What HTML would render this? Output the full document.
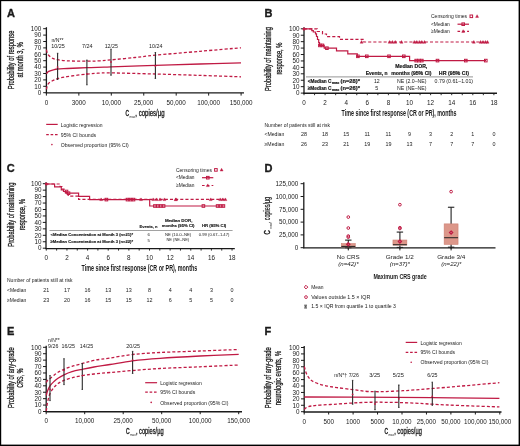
<!DOCTYPE html>
<html><head><meta charset="utf-8"><style>
html,body{margin:0;padding:0;background:#fff;}
svg{display:block;will-change:transform;}
text{font-family:"Liberation Sans", sans-serif;}
</style></head><body>
<svg width="520" height="446" viewBox="0 0 520 446" font-family='"Liberation Sans", sans-serif' fill="#1a1a1a">
<rect width="520" height="446" fill="#fff"/>
<text x="6.90" y="16.90" font-size="11" font-weight="bold" stroke="#1a1a1a" stroke-width="0.35">A</text>
<line x1="46.40" y1="27.20" x2="46.40" y2="93.30" stroke="#1a1a1a" stroke-width="1.3"/>
<line x1="43.20" y1="92.70" x2="46.40" y2="92.70" stroke="#1a1a1a" stroke-width="1"/>
<text x="41.20" y="94.97" font-size="6.3" text-anchor="end">0</text>
<line x1="43.20" y1="86.30" x2="46.40" y2="86.30" stroke="#1a1a1a" stroke-width="1"/>
<text x="41.20" y="88.57" font-size="6.3" text-anchor="end">10</text>
<line x1="43.20" y1="79.90" x2="46.40" y2="79.90" stroke="#1a1a1a" stroke-width="1"/>
<text x="41.20" y="82.17" font-size="6.3" text-anchor="end">20</text>
<line x1="43.20" y1="73.50" x2="46.40" y2="73.50" stroke="#1a1a1a" stroke-width="1"/>
<text x="41.20" y="75.77" font-size="6.3" text-anchor="end">30</text>
<line x1="43.20" y1="67.10" x2="46.40" y2="67.10" stroke="#1a1a1a" stroke-width="1"/>
<text x="41.20" y="69.37" font-size="6.3" text-anchor="end">40</text>
<line x1="43.20" y1="60.70" x2="46.40" y2="60.70" stroke="#1a1a1a" stroke-width="1"/>
<text x="41.20" y="62.97" font-size="6.3" text-anchor="end">50</text>
<line x1="43.20" y1="54.30" x2="46.40" y2="54.30" stroke="#1a1a1a" stroke-width="1"/>
<text x="41.20" y="56.57" font-size="6.3" text-anchor="end">60</text>
<line x1="43.20" y1="47.90" x2="46.40" y2="47.90" stroke="#1a1a1a" stroke-width="1"/>
<text x="41.20" y="50.17" font-size="6.3" text-anchor="end">70</text>
<line x1="43.20" y1="41.50" x2="46.40" y2="41.50" stroke="#1a1a1a" stroke-width="1"/>
<text x="41.20" y="43.77" font-size="6.3" text-anchor="end">80</text>
<line x1="43.20" y1="35.10" x2="46.40" y2="35.10" stroke="#1a1a1a" stroke-width="1"/>
<text x="41.20" y="37.37" font-size="6.3" text-anchor="end">90</text>
<line x1="43.20" y1="28.70" x2="46.40" y2="28.70" stroke="#1a1a1a" stroke-width="1"/>
<text x="41.20" y="30.97" font-size="6.3" text-anchor="end">100</text>
<line x1="45.80" y1="92.90" x2="244.00" y2="92.90" stroke="#1a1a1a" stroke-width="1.4"/>
<line x1="46.40" y1="92.90" x2="46.40" y2="95.60" stroke="#1a1a1a" stroke-width="1"/>
<text x="46.40" y="104.97" font-size="6.3" text-anchor="middle">0</text>
<line x1="78.85" y1="92.90" x2="78.85" y2="95.60" stroke="#1a1a1a" stroke-width="1"/>
<text x="78.85" y="104.97" font-size="6.3" text-anchor="middle">3000</text>
<line x1="111.30" y1="92.90" x2="111.30" y2="95.60" stroke="#1a1a1a" stroke-width="1"/>
<text x="111.30" y="104.97" font-size="6.3" text-anchor="middle">10,000</text>
<line x1="143.75" y1="92.90" x2="143.75" y2="95.60" stroke="#1a1a1a" stroke-width="1"/>
<text x="143.75" y="104.97" font-size="6.3" text-anchor="middle">25,000</text>
<line x1="176.20" y1="92.90" x2="176.20" y2="95.60" stroke="#1a1a1a" stroke-width="1"/>
<text x="176.20" y="104.97" font-size="6.3" text-anchor="middle">50,000</text>
<line x1="208.65" y1="92.90" x2="208.65" y2="95.60" stroke="#1a1a1a" stroke-width="1"/>
<text x="208.65" y="104.97" font-size="6.3" text-anchor="middle">100,000</text>
<line x1="241.10" y1="92.90" x2="241.10" y2="95.60" stroke="#1a1a1a" stroke-width="1"/>
<text x="241.10" y="104.97" font-size="6.3" text-anchor="middle">150,000</text>
<text transform="translate(13.90,59.90) rotate(-90)" x="-29.30" y="0" font-size="8.6" textLength="58.60" lengthAdjust="spacingAndGlyphs" stroke="#1a1a1a" stroke-width="0.3">Probability of response</text>
<text transform="translate(23.30,59.90) rotate(-90)" x="-17.60" y="0" font-size="8.6" textLength="35.20" lengthAdjust="spacingAndGlyphs" stroke="#1a1a1a" stroke-width="0.3">at month 3, %</text>
<text x="125.50" y="115.70" font-size="8.4" textLength="3.60" lengthAdjust="spacingAndGlyphs" stroke="#1a1a1a" stroke-width="0.45">C</text>
<text x="129.50" y="118.20" font-size="3.6" textLength="5.60" lengthAdjust="spacingAndGlyphs">max</text>
<text x="135.30" y="115.70" font-size="8.2" textLength="29.30" lengthAdjust="spacingAndGlyphs" stroke="#1a1a1a" stroke-width="0.3">, copies/µg</text>
<text x="51.50" y="41.51" font-size="5.3" textLength="12.00" lengthAdjust="spacingAndGlyphs">n/N**</text>
<text x="51.20" y="47.71" font-size="5.3" textLength="13.60" lengthAdjust="spacingAndGlyphs">10/25</text>
<text x="82.00" y="47.71" font-size="5.3" textLength="10.60" lengthAdjust="spacingAndGlyphs">7/24</text>
<text x="104.65" y="47.71" font-size="5.3" textLength="13.30" lengthAdjust="spacingAndGlyphs">12/25</text>
<text x="149.05" y="47.71" font-size="5.3" textLength="13.30" lengthAdjust="spacingAndGlyphs">10/24</text>
<path d="M46.40,73.70 C46.78,73.32 47.55,72.03 48.70,71.40 C49.85,70.77 51.83,70.30 53.30,69.90 C54.77,69.50 55.17,69.23 57.50,69.00 C59.83,68.77 62.38,68.72 67.30,68.50 C72.22,68.28 80.88,67.93 87.00,67.70 C93.12,67.47 100.00,67.25 104.00,67.10 C108.00,66.95 102.43,67.08 111.00,66.80 C119.57,66.52 140.57,65.87 155.40,65.40 C170.23,64.93 185.73,64.43 200.00,64.00 C214.27,63.57 234.17,63.00 241.00,62.80" stroke="#c01a44" stroke-width="1.3" fill="none"/>
<path d="M46.40,49.80 C46.67,50.55 47.07,52.93 48.00,54.30 C48.93,55.67 50.42,57.10 52.00,58.00 C53.58,58.90 55.00,59.23 57.50,59.70 C60.00,60.17 62.08,60.55 67.00,60.80 C71.92,61.05 81.50,61.20 87.00,61.20 C92.50,61.20 96.00,61.02 100.00,60.80 C104.00,60.58 105.17,60.45 111.00,59.90 C116.83,59.35 127.60,58.28 135.00,57.50 C142.40,56.72 144.57,56.23 155.40,55.20 C166.23,54.17 185.73,52.53 200.00,51.30 C214.27,50.07 234.17,48.38 241.00,47.80" stroke="#c01a44" stroke-width="1.3" fill="none" stroke-dasharray="3.05,2.05"/>
<path d="M46.40,89.40 C46.67,88.53 47.07,85.60 48.00,84.20 C48.93,82.80 50.42,81.92 52.00,81.00 C53.58,80.08 55.00,79.43 57.50,78.70 C60.00,77.97 62.08,77.37 67.00,76.60 C71.92,75.83 81.50,74.68 87.00,74.10 C92.50,73.52 96.00,73.30 100.00,73.10 C104.00,72.90 101.77,72.75 111.00,72.90 C120.23,73.05 140.57,73.58 155.40,74.00 C170.23,74.42 185.73,74.93 200.00,75.40 C214.27,75.87 234.17,76.57 241.00,76.80" stroke="#c01a44" stroke-width="1.3" fill="none" stroke-dasharray="3.05,2.05"/>
<line x1="57.60" y1="53.30" x2="57.60" y2="79.50" stroke="#2a2a2a" stroke-width="1.1"/>
<line x1="56.90" y1="53.30" x2="58.30" y2="53.30" stroke="#2a2a2a" stroke-width="0.9"/>
<line x1="56.90" y1="79.50" x2="58.30" y2="79.50" stroke="#2a2a2a" stroke-width="0.9"/>
<circle cx="57.60" cy="67.10" r="0.9" fill="#c01a44"/>
<line x1="86.90" y1="60.10" x2="86.90" y2="84.80" stroke="#2a2a2a" stroke-width="1.1"/>
<line x1="86.20" y1="60.10" x2="87.60" y2="60.10" stroke="#2a2a2a" stroke-width="0.9"/>
<line x1="86.20" y1="84.80" x2="87.60" y2="84.80" stroke="#2a2a2a" stroke-width="0.9"/>
<circle cx="86.90" cy="74.01" r="0.9" fill="#c01a44"/>
<line x1="111.00" y1="49.20" x2="111.00" y2="75.20" stroke="#2a2a2a" stroke-width="1.1"/>
<line x1="110.30" y1="49.20" x2="111.70" y2="49.20" stroke="#2a2a2a" stroke-width="0.9"/>
<line x1="110.30" y1="75.20" x2="111.70" y2="75.20" stroke="#2a2a2a" stroke-width="0.9"/>
<circle cx="111.00" cy="61.98" r="0.9" fill="#c01a44"/>
<line x1="155.40" y1="52.50" x2="155.40" y2="78.40" stroke="#2a2a2a" stroke-width="1.1"/>
<line x1="154.70" y1="52.50" x2="156.10" y2="52.50" stroke="#2a2a2a" stroke-width="0.9"/>
<line x1="154.70" y1="78.40" x2="156.10" y2="78.40" stroke="#2a2a2a" stroke-width="0.9"/>
<circle cx="155.40" cy="66.01" r="0.9" fill="#c01a44"/>
<line x1="46.20" y1="124.40" x2="57.70" y2="124.40" stroke="#c01a44" stroke-width="1.2"/>
<text x="60.80" y="126.54" font-size="5.8" textLength="41.70" lengthAdjust="spacingAndGlyphs">Logistic regression</text>
<line x1="46.20" y1="134.60" x2="57.70" y2="134.60" stroke="#c01a44" stroke-width="1.2" stroke-dasharray="2.6,1.8"/>
<text x="60.80" y="136.74" font-size="5.8" textLength="35.40" lengthAdjust="spacingAndGlyphs">95% CI bounds</text>
<circle cx="51.90" cy="144.60" r="0.8" fill="#c01a44"/>
<text x="60.80" y="146.74" font-size="5.8" textLength="68.00" lengthAdjust="spacingAndGlyphs">Observed proportion (95% CI)</text>
<text x="264.60" y="16.70" font-size="11" font-weight="bold" stroke="#1a1a1a" stroke-width="0.35">B</text>
<line x1="304.00" y1="27.30" x2="304.00" y2="93.70" stroke="#1a1a1a" stroke-width="1.3"/>
<line x1="300.80" y1="93.10" x2="304.00" y2="93.10" stroke="#1a1a1a" stroke-width="1"/>
<text x="299.60" y="95.37" font-size="6.3" text-anchor="end">0</text>
<line x1="300.80" y1="86.67" x2="304.00" y2="86.67" stroke="#1a1a1a" stroke-width="1"/>
<text x="299.60" y="88.94" font-size="6.3" text-anchor="end">10</text>
<line x1="300.80" y1="80.24" x2="304.00" y2="80.24" stroke="#1a1a1a" stroke-width="1"/>
<text x="299.60" y="82.51" font-size="6.3" text-anchor="end">20</text>
<line x1="300.80" y1="73.81" x2="304.00" y2="73.81" stroke="#1a1a1a" stroke-width="1"/>
<text x="299.60" y="76.08" font-size="6.3" text-anchor="end">30</text>
<line x1="300.80" y1="67.38" x2="304.00" y2="67.38" stroke="#1a1a1a" stroke-width="1"/>
<text x="299.60" y="69.65" font-size="6.3" text-anchor="end">40</text>
<line x1="300.80" y1="60.95" x2="304.00" y2="60.95" stroke="#1a1a1a" stroke-width="1"/>
<text x="299.60" y="63.22" font-size="6.3" text-anchor="end">50</text>
<line x1="300.80" y1="54.52" x2="304.00" y2="54.52" stroke="#1a1a1a" stroke-width="1"/>
<text x="299.60" y="56.79" font-size="6.3" text-anchor="end">60</text>
<line x1="300.80" y1="48.09" x2="304.00" y2="48.09" stroke="#1a1a1a" stroke-width="1"/>
<text x="299.60" y="50.36" font-size="6.3" text-anchor="end">70</text>
<line x1="300.80" y1="41.66" x2="304.00" y2="41.66" stroke="#1a1a1a" stroke-width="1"/>
<text x="299.60" y="43.93" font-size="6.3" text-anchor="end">80</text>
<line x1="300.80" y1="35.23" x2="304.00" y2="35.23" stroke="#1a1a1a" stroke-width="1"/>
<text x="299.60" y="37.50" font-size="6.3" text-anchor="end">90</text>
<line x1="300.80" y1="28.80" x2="304.00" y2="28.80" stroke="#1a1a1a" stroke-width="1"/>
<text x="299.60" y="31.07" font-size="6.3" text-anchor="end">100</text>
<line x1="303.40" y1="93.20" x2="497.00" y2="93.20" stroke="#1a1a1a" stroke-width="1.4"/>
<line x1="304.00" y1="93.20" x2="304.00" y2="95.20" stroke="#1a1a1a" stroke-width="0.9"/>
<line x1="314.55" y1="93.20" x2="314.55" y2="95.20" stroke="#1a1a1a" stroke-width="0.9"/>
<line x1="325.10" y1="93.20" x2="325.10" y2="95.20" stroke="#1a1a1a" stroke-width="0.9"/>
<line x1="335.65" y1="93.20" x2="335.65" y2="95.20" stroke="#1a1a1a" stroke-width="0.9"/>
<line x1="346.20" y1="93.20" x2="346.20" y2="95.20" stroke="#1a1a1a" stroke-width="0.9"/>
<line x1="356.75" y1="93.20" x2="356.75" y2="95.20" stroke="#1a1a1a" stroke-width="0.9"/>
<line x1="367.30" y1="93.20" x2="367.30" y2="95.20" stroke="#1a1a1a" stroke-width="0.9"/>
<line x1="377.85" y1="93.20" x2="377.85" y2="95.20" stroke="#1a1a1a" stroke-width="0.9"/>
<line x1="388.40" y1="93.20" x2="388.40" y2="95.20" stroke="#1a1a1a" stroke-width="0.9"/>
<line x1="398.95" y1="93.20" x2="398.95" y2="95.20" stroke="#1a1a1a" stroke-width="0.9"/>
<line x1="409.50" y1="93.20" x2="409.50" y2="95.20" stroke="#1a1a1a" stroke-width="0.9"/>
<line x1="420.05" y1="93.20" x2="420.05" y2="95.20" stroke="#1a1a1a" stroke-width="0.9"/>
<line x1="430.60" y1="93.20" x2="430.60" y2="95.20" stroke="#1a1a1a" stroke-width="0.9"/>
<line x1="441.15" y1="93.20" x2="441.15" y2="95.20" stroke="#1a1a1a" stroke-width="0.9"/>
<line x1="451.70" y1="93.20" x2="451.70" y2="95.20" stroke="#1a1a1a" stroke-width="0.9"/>
<line x1="462.25" y1="93.20" x2="462.25" y2="95.20" stroke="#1a1a1a" stroke-width="0.9"/>
<line x1="472.80" y1="93.20" x2="472.80" y2="95.20" stroke="#1a1a1a" stroke-width="0.9"/>
<line x1="483.35" y1="93.20" x2="483.35" y2="95.20" stroke="#1a1a1a" stroke-width="0.9"/>
<line x1="493.90" y1="93.20" x2="493.90" y2="95.20" stroke="#1a1a1a" stroke-width="0.9"/>
<text x="304.00" y="104.97" font-size="6.3" text-anchor="middle">0</text>
<text x="325.10" y="104.97" font-size="6.3" text-anchor="middle">2</text>
<text x="346.20" y="104.97" font-size="6.3" text-anchor="middle">4</text>
<text x="367.30" y="104.97" font-size="6.3" text-anchor="middle">6</text>
<text x="388.40" y="104.97" font-size="6.3" text-anchor="middle">8</text>
<text x="409.50" y="104.97" font-size="6.3" text-anchor="middle">10</text>
<text x="430.60" y="104.97" font-size="6.3" text-anchor="middle">12</text>
<text x="451.70" y="104.97" font-size="6.3" text-anchor="middle">14</text>
<text x="472.80" y="104.97" font-size="6.3" text-anchor="middle">16</text>
<text x="493.90" y="104.97" font-size="6.3" text-anchor="middle">18</text>
<text transform="translate(271.00,59.00) rotate(-90)" x="-31.95" y="0" font-size="8.6" textLength="63.90" lengthAdjust="spacingAndGlyphs" stroke="#1a1a1a" stroke-width="0.3">Probability of maintaining</text>
<text transform="translate(282.00,58.60) rotate(-90)" x="-16.00" y="0" font-size="8.6" textLength="32.00" lengthAdjust="spacingAndGlyphs" stroke="#1a1a1a" stroke-width="0.3">response, %</text>
<text x="341.60" y="115.80" font-size="8.4" font-weight="bold" textLength="115.00" lengthAdjust="spacingAndGlyphs">Time since first response (CR or PR), months</text>
<path d="M304.00,28.90 L311.80,28.90 L311.80,30.60 L313.30,30.60 L313.30,32.00 L315.50,32.00 L315.50,33.80 L316.50,33.80 L316.50,36.50 L317.50,36.50 L317.50,39.50 L318.70,39.50 L318.70,42.50 L319.50,42.50 L319.50,45.40 L324.20,45.40 L324.20,48.20 L336.50,48.20 L336.50,50.90 L347.80,50.90 L347.80,53.90 L357.30,53.90 L357.30,56.30 L409.60,56.30 L409.60,60.60 L486.00,60.60" stroke="#c01a44" stroke-width="1.2" fill="none"/>
<path d="M304.00,28.90 L317.20,28.90 L317.20,31.50 L322.50,31.50 L322.50,34.00 L326.50,34.00 L326.50,36.70 L339.50,36.70 L339.50,39.30 L363.80,39.30 L363.80,42.00 L488.00,42.00" stroke="#c01a44" stroke-width="1.2" fill="none" stroke-dasharray="3.1,2.05"/>
<rect x="318.60" y="44.10" width="2.60" height="2.60" fill="none" stroke="#c01a44" stroke-width="1.0"/>
<rect x="321.10" y="44.10" width="2.60" height="2.60" fill="none" stroke="#c01a44" stroke-width="1.0"/>
<rect x="325.60" y="46.90" width="2.60" height="2.60" fill="none" stroke="#c01a44" stroke-width="1.0"/>
<rect x="356.60" y="55.00" width="2.60" height="2.60" fill="none" stroke="#c01a44" stroke-width="1.0"/>
<rect x="365.50" y="55.00" width="2.60" height="2.60" fill="none" stroke="#c01a44" stroke-width="1.0"/>
<rect x="387.70" y="55.00" width="2.60" height="2.60" fill="none" stroke="#c01a44" stroke-width="1.0"/>
<rect x="402.50" y="55.00" width="2.60" height="2.60" fill="none" stroke="#c01a44" stroke-width="1.0"/>
<rect x="414.90" y="59.30" width="2.60" height="2.60" fill="none" stroke="#c01a44" stroke-width="1.0"/>
<rect x="417.70" y="59.30" width="2.60" height="2.60" fill="none" stroke="#c01a44" stroke-width="1.0"/>
<rect x="420.50" y="59.30" width="2.60" height="2.60" fill="none" stroke="#c01a44" stroke-width="1.0"/>
<rect x="436.20" y="59.30" width="2.60" height="2.60" fill="none" stroke="#c01a44" stroke-width="1.0"/>
<rect x="464.50" y="59.30" width="2.60" height="2.60" fill="none" stroke="#c01a44" stroke-width="1.0"/>
<rect x="484.50" y="59.30" width="2.60" height="2.60" fill="none" stroke="#c01a44" stroke-width="1.0"/>
<path d="M360.10,43.20 L361.60,40.50 L363.10,43.20 Z" fill="#c01a44" stroke="#c01a44" stroke-width="0.4"/>
<path d="M388.10,43.20 L389.60,40.50 L391.10,43.20 Z" fill="#c01a44" stroke="#c01a44" stroke-width="0.4"/>
<path d="M391.00,43.20 L392.50,40.50 L394.00,43.20 Z" fill="#c01a44" stroke="#c01a44" stroke-width="0.4"/>
<path d="M393.80,43.20 L395.30,40.50 L396.80,43.20 Z" fill="#c01a44" stroke="#c01a44" stroke-width="0.4"/>
<path d="M400.00,43.20 L401.50,40.50 L403.00,43.20 Z" fill="#c01a44" stroke="#c01a44" stroke-width="0.4"/>
<path d="M412.80,43.20 L414.30,40.50 L415.80,43.20 Z" fill="#c01a44" stroke="#c01a44" stroke-width="0.4"/>
<path d="M415.30,43.20 L416.80,40.50 L418.30,43.20 Z" fill="#c01a44" stroke="#c01a44" stroke-width="0.4"/>
<path d="M417.80,43.20 L419.30,40.50 L420.80,43.20 Z" fill="#c01a44" stroke="#c01a44" stroke-width="0.4"/>
<path d="M420.30,43.20 L421.80,40.50 L423.30,43.20 Z" fill="#c01a44" stroke="#c01a44" stroke-width="0.4"/>
<path d="M423.00,43.20 L424.50,40.50 L426.00,43.20 Z" fill="#c01a44" stroke="#c01a44" stroke-width="0.4"/>
<path d="M472.30,43.20 L473.80,40.50 L475.30,43.20 Z" fill="#c01a44" stroke="#c01a44" stroke-width="0.4"/>
<path d="M479.00,43.20 L480.50,40.50 L482.00,43.20 Z" fill="#c01a44" stroke="#c01a44" stroke-width="0.4"/>
<path d="M481.50,43.20 L483.00,40.50 L484.50,43.20 Z" fill="#c01a44" stroke="#c01a44" stroke-width="0.4"/>
<path d="M484.00,43.20 L485.50,40.50 L487.00,43.20 Z" fill="#c01a44" stroke="#c01a44" stroke-width="0.4"/>
<path d="M486.00,43.20 L487.50,40.50 L489.00,43.20 Z" fill="#c01a44" stroke="#c01a44" stroke-width="0.4"/>
<circle cx="304.00" cy="28.90" r="1.5" fill="#c01a44"/>
<text x="431.00" y="18.04" font-size="5.8" textLength="36.10" lengthAdjust="spacingAndGlyphs">Censoring times</text>
<rect x="470.00" y="15.00" width="2.60" height="2.60" fill="none" stroke="#c01a44" stroke-width="1.0"/>
<path d="M475.60,17.40 L477.10,14.70 L478.60,17.40 Z" fill="#c01a44" stroke="#c01a44" stroke-width="0.4"/>
<text x="431.00" y="25.94" font-size="5.8" textLength="18.80" lengthAdjust="spacingAndGlyphs">&lt;Median</text>
<line x1="457.50" y1="24.20" x2="469.00" y2="24.20" stroke="#c01a44" stroke-width="1.2"/>
<rect x="461.90" y="22.90" width="2.60" height="2.60" fill="none" stroke="#c01a44" stroke-width="1.0"/>
<text x="431.00" y="33.04" font-size="5.8" textLength="18.80" lengthAdjust="spacingAndGlyphs">≥Median</text>
<line x1="457.50" y1="31.30" x2="469.00" y2="31.30" stroke="#c01a44" stroke-width="1.2" stroke-dasharray="2.6,2.2"/>
<path d="M461.70,32.40 L463.20,29.70 L464.70,32.40 Z" fill="#c01a44" stroke="#c01a44" stroke-width="0.4"/>
<text x="395.30" y="68.15" font-size="5.6" font-weight="bold" textLength="32.00" lengthAdjust="spacingAndGlyphs" stroke="#1a1a1a" stroke-width="0.2">Median DOR,</text>
<text x="365.70" y="75.35" font-size="5.6" font-weight="bold" textLength="21.90" lengthAdjust="spacingAndGlyphs" stroke="#1a1a1a" stroke-width="0.2">Events, n</text>
<text x="391.20" y="75.35" font-size="5.6" font-weight="bold" textLength="40.30" lengthAdjust="spacingAndGlyphs" stroke="#1a1a1a" stroke-width="0.2">months (95% CI)</text>
<text x="438.80" y="75.35" font-size="5.6" font-weight="bold" textLength="30.10" lengthAdjust="spacingAndGlyphs" stroke="#1a1a1a" stroke-width="0.2">HR (95% CI)</text>
<line x1="306.00" y1="76.90" x2="473.00" y2="76.90" stroke="#8a8a8a" stroke-width="0.9"/>
<text x="307.70" y="83.35" font-size="5.6" font-weight="bold" textLength="23.80" lengthAdjust="spacingAndGlyphs" stroke="#1a1a1a" stroke-width="0.2">&lt;Median C</text>
<text x="332.00" y="84.06" font-size="3.2" font-weight="bold" textLength="7.20" lengthAdjust="spacingAndGlyphs" stroke="#1a1a1a" stroke-width="0.2">max</text>
<text x="340.50" y="83.35" font-size="5.6" font-weight="bold" textLength="19.50" lengthAdjust="spacingAndGlyphs" stroke="#1a1a1a" stroke-width="0.2">(n=28)*</text>
<text x="307.70" y="89.85" font-size="5.6" font-weight="bold" textLength="23.80" lengthAdjust="spacingAndGlyphs" stroke="#1a1a1a" stroke-width="0.2">≥Median C</text>
<text x="332.00" y="90.56" font-size="3.2" font-weight="bold" textLength="7.20" lengthAdjust="spacingAndGlyphs" stroke="#1a1a1a" stroke-width="0.2">max</text>
<text x="340.50" y="89.85" font-size="5.6" font-weight="bold" textLength="19.50" lengthAdjust="spacingAndGlyphs" stroke="#1a1a1a" stroke-width="0.2">(n=26)*</text>
<text x="373.90" y="83.42" font-size="5.6" textLength="5.80" lengthAdjust="spacingAndGlyphs">12</text>
<text x="375.30" y="89.72" font-size="5.6" textLength="3.00" lengthAdjust="spacingAndGlyphs">5</text>
<text x="397.00" y="83.25" font-size="5.6" textLength="29.50" lengthAdjust="spacingAndGlyphs">NE (2.0–NE)</text>
<text x="397.00" y="89.55" font-size="5.6" textLength="29.50" lengthAdjust="spacingAndGlyphs">NE (NE–NE)</text>
<text x="434.60" y="83.25" font-size="5.6" textLength="38.50" lengthAdjust="spacingAndGlyphs">0.79 (0.61–1.01)</text>
<text x="264.50" y="126.62" font-size="5.4" textLength="65.50" lengthAdjust="spacingAndGlyphs">Number of patients still at risk</text>
<text x="264.50" y="135.82" font-size="5.4" textLength="19.80" lengthAdjust="spacingAndGlyphs">&lt;Median</text>
<text x="264.50" y="145.92" font-size="5.4" textLength="19.80" lengthAdjust="spacingAndGlyphs">≥Median</text>
<text x="304.00" y="136.14" font-size="5.4" text-anchor="middle">28</text>
<text x="304.00" y="146.24" font-size="5.4" text-anchor="middle">26</text>
<text x="325.10" y="136.14" font-size="5.4" text-anchor="middle">18</text>
<text x="325.10" y="146.24" font-size="5.4" text-anchor="middle">23</text>
<text x="346.20" y="136.14" font-size="5.4" text-anchor="middle">15</text>
<text x="346.20" y="146.24" font-size="5.4" text-anchor="middle">21</text>
<text x="367.30" y="136.14" font-size="5.4" text-anchor="middle">11</text>
<text x="367.30" y="146.24" font-size="5.4" text-anchor="middle">19</text>
<text x="388.40" y="136.14" font-size="5.4" text-anchor="middle">11</text>
<text x="388.40" y="146.24" font-size="5.4" text-anchor="middle">19</text>
<text x="409.50" y="136.14" font-size="5.4" text-anchor="middle">9</text>
<text x="409.50" y="146.24" font-size="5.4" text-anchor="middle">13</text>
<text x="430.60" y="136.14" font-size="5.4" text-anchor="middle">3</text>
<text x="430.60" y="146.24" font-size="5.4" text-anchor="middle">7</text>
<text x="451.70" y="136.14" font-size="5.4" text-anchor="middle">2</text>
<text x="451.70" y="146.24" font-size="5.4" text-anchor="middle">7</text>
<text x="472.80" y="136.14" font-size="5.4" text-anchor="middle">1</text>
<text x="472.80" y="146.24" font-size="5.4" text-anchor="middle">7</text>
<text x="493.90" y="136.14" font-size="5.4" text-anchor="middle">0</text>
<text x="493.90" y="146.24" font-size="5.4" text-anchor="middle">0</text>
<text x="6.70" y="172.30" font-size="11" font-weight="bold" stroke="#1a1a1a" stroke-width="0.35">C</text>
<line x1="46.00" y1="182.20" x2="46.00" y2="248.80" stroke="#1a1a1a" stroke-width="1.3"/>
<line x1="42.80" y1="248.20" x2="46.00" y2="248.20" stroke="#1a1a1a" stroke-width="1"/>
<text x="41.60" y="250.47" font-size="6.3" text-anchor="end">0</text>
<line x1="42.80" y1="241.75" x2="46.00" y2="241.75" stroke="#1a1a1a" stroke-width="1"/>
<text x="41.60" y="244.02" font-size="6.3" text-anchor="end">10</text>
<line x1="42.80" y1="235.30" x2="46.00" y2="235.30" stroke="#1a1a1a" stroke-width="1"/>
<text x="41.60" y="237.57" font-size="6.3" text-anchor="end">20</text>
<line x1="42.80" y1="228.85" x2="46.00" y2="228.85" stroke="#1a1a1a" stroke-width="1"/>
<text x="41.60" y="231.12" font-size="6.3" text-anchor="end">30</text>
<line x1="42.80" y1="222.40" x2="46.00" y2="222.40" stroke="#1a1a1a" stroke-width="1"/>
<text x="41.60" y="224.67" font-size="6.3" text-anchor="end">40</text>
<line x1="42.80" y1="215.95" x2="46.00" y2="215.95" stroke="#1a1a1a" stroke-width="1"/>
<text x="41.60" y="218.22" font-size="6.3" text-anchor="end">50</text>
<line x1="42.80" y1="209.50" x2="46.00" y2="209.50" stroke="#1a1a1a" stroke-width="1"/>
<text x="41.60" y="211.77" font-size="6.3" text-anchor="end">60</text>
<line x1="42.80" y1="203.05" x2="46.00" y2="203.05" stroke="#1a1a1a" stroke-width="1"/>
<text x="41.60" y="205.32" font-size="6.3" text-anchor="end">70</text>
<line x1="42.80" y1="196.60" x2="46.00" y2="196.60" stroke="#1a1a1a" stroke-width="1"/>
<text x="41.60" y="198.87" font-size="6.3" text-anchor="end">80</text>
<line x1="42.80" y1="190.15" x2="46.00" y2="190.15" stroke="#1a1a1a" stroke-width="1"/>
<text x="41.60" y="192.42" font-size="6.3" text-anchor="end">90</text>
<line x1="42.80" y1="183.70" x2="46.00" y2="183.70" stroke="#1a1a1a" stroke-width="1"/>
<text x="41.60" y="185.97" font-size="6.3" text-anchor="end">100</text>
<line x1="45.40" y1="248.60" x2="234.80" y2="248.60" stroke="#1a1a1a" stroke-width="1.4"/>
<line x1="46.30" y1="248.60" x2="46.30" y2="250.60" stroke="#1a1a1a" stroke-width="0.9"/>
<line x1="56.62" y1="248.60" x2="56.62" y2="250.60" stroke="#1a1a1a" stroke-width="0.9"/>
<line x1="66.94" y1="248.60" x2="66.94" y2="250.60" stroke="#1a1a1a" stroke-width="0.9"/>
<line x1="77.26" y1="248.60" x2="77.26" y2="250.60" stroke="#1a1a1a" stroke-width="0.9"/>
<line x1="87.58" y1="248.60" x2="87.58" y2="250.60" stroke="#1a1a1a" stroke-width="0.9"/>
<line x1="97.90" y1="248.60" x2="97.90" y2="250.60" stroke="#1a1a1a" stroke-width="0.9"/>
<line x1="108.22" y1="248.60" x2="108.22" y2="250.60" stroke="#1a1a1a" stroke-width="0.9"/>
<line x1="118.54" y1="248.60" x2="118.54" y2="250.60" stroke="#1a1a1a" stroke-width="0.9"/>
<line x1="128.86" y1="248.60" x2="128.86" y2="250.60" stroke="#1a1a1a" stroke-width="0.9"/>
<line x1="139.18" y1="248.60" x2="139.18" y2="250.60" stroke="#1a1a1a" stroke-width="0.9"/>
<line x1="149.50" y1="248.60" x2="149.50" y2="250.60" stroke="#1a1a1a" stroke-width="0.9"/>
<line x1="159.82" y1="248.60" x2="159.82" y2="250.60" stroke="#1a1a1a" stroke-width="0.9"/>
<line x1="170.14" y1="248.60" x2="170.14" y2="250.60" stroke="#1a1a1a" stroke-width="0.9"/>
<line x1="180.46" y1="248.60" x2="180.46" y2="250.60" stroke="#1a1a1a" stroke-width="0.9"/>
<line x1="190.78" y1="248.60" x2="190.78" y2="250.60" stroke="#1a1a1a" stroke-width="0.9"/>
<line x1="201.10" y1="248.60" x2="201.10" y2="250.60" stroke="#1a1a1a" stroke-width="0.9"/>
<line x1="211.42" y1="248.60" x2="211.42" y2="250.60" stroke="#1a1a1a" stroke-width="0.9"/>
<line x1="221.74" y1="248.60" x2="221.74" y2="250.60" stroke="#1a1a1a" stroke-width="0.9"/>
<line x1="232.06" y1="248.60" x2="232.06" y2="250.60" stroke="#1a1a1a" stroke-width="0.9"/>
<text x="46.30" y="259.67" font-size="6.3" text-anchor="middle">0</text>
<text x="66.94" y="259.67" font-size="6.3" text-anchor="middle">2</text>
<text x="87.58" y="259.67" font-size="6.3" text-anchor="middle">4</text>
<text x="108.22" y="259.67" font-size="6.3" text-anchor="middle">6</text>
<text x="128.86" y="259.67" font-size="6.3" text-anchor="middle">8</text>
<text x="149.50" y="259.67" font-size="6.3" text-anchor="middle">10</text>
<text x="170.14" y="259.67" font-size="6.3" text-anchor="middle">12</text>
<text x="190.78" y="259.67" font-size="6.3" text-anchor="middle">14</text>
<text x="211.42" y="259.67" font-size="6.3" text-anchor="middle">16</text>
<text x="232.06" y="259.67" font-size="6.3" text-anchor="middle">18</text>
<text transform="translate(13.90,214.60) rotate(-90)" x="-32.10" y="0" font-size="8.6" textLength="64.20" lengthAdjust="spacingAndGlyphs" stroke="#1a1a1a" stroke-width="0.3">Probability of maintaining</text>
<text transform="translate(24.70,214.60) rotate(-90)" x="-15.75" y="0" font-size="8.6" textLength="31.50" lengthAdjust="spacingAndGlyphs" stroke="#1a1a1a" stroke-width="0.3">response, %</text>
<text x="81.50" y="271.00" font-size="8.4" font-weight="bold" textLength="115.70" lengthAdjust="spacingAndGlyphs">Time since first response (CR or PR), months</text>
<path d="M46.30,184.00 L54.60,184.00 L54.60,186.90 L61.30,186.90 L61.30,189.80 L63.50,189.80 L63.50,191.50 L66.00,191.50 L66.00,193.20 L78.60,193.20 L78.60,196.30 L89.60,196.30 L89.60,199.60 L149.70,199.60 L149.70,206.00 L224.50,206.00" stroke="#c01a44" stroke-width="1.2" fill="none"/>
<path d="M46.30,184.00 L60.00,184.00 L60.00,186.50 L62.00,186.50 L62.00,189.00 L64.00,189.00 L64.00,191.50 L66.00,191.50 L66.00,194.00 L68.20,194.00 L68.20,196.10 L78.60,196.10 L78.60,199.40 L225.40,199.40" stroke="#c01a44" stroke-width="1.2" fill="none" stroke-dasharray="3.1,2.05"/>
<rect x="65.20" y="190.20" width="2.60" height="2.60" fill="none" stroke="#c01a44" stroke-width="1.0"/>
<rect x="67.20" y="191.90" width="2.60" height="2.60" fill="none" stroke="#c01a44" stroke-width="1.0"/>
<rect x="105.10" y="198.30" width="2.60" height="2.60" fill="none" stroke="#c01a44" stroke-width="1.0"/>
<rect x="126.20" y="198.30" width="2.60" height="2.60" fill="none" stroke="#c01a44" stroke-width="1.0"/>
<rect x="129.20" y="198.30" width="2.60" height="2.60" fill="none" stroke="#c01a44" stroke-width="1.0"/>
<rect x="132.20" y="198.30" width="2.60" height="2.60" fill="none" stroke="#c01a44" stroke-width="1.0"/>
<rect x="153.60" y="204.70" width="2.60" height="2.60" fill="none" stroke="#c01a44" stroke-width="1.0"/>
<rect x="156.50" y="204.70" width="2.60" height="2.60" fill="none" stroke="#c01a44" stroke-width="1.0"/>
<rect x="159.40" y="204.70" width="2.60" height="2.60" fill="none" stroke="#c01a44" stroke-width="1.0"/>
<rect x="162.30" y="204.70" width="2.60" height="2.60" fill="none" stroke="#c01a44" stroke-width="1.0"/>
<rect x="202.10" y="204.70" width="2.60" height="2.60" fill="none" stroke="#c01a44" stroke-width="1.0"/>
<rect x="216.30" y="204.70" width="2.60" height="2.60" fill="none" stroke="#c01a44" stroke-width="1.0"/>
<rect x="219.20" y="204.70" width="2.60" height="2.60" fill="none" stroke="#c01a44" stroke-width="1.0"/>
<rect x="222.10" y="204.70" width="2.60" height="2.60" fill="none" stroke="#c01a44" stroke-width="1.0"/>
<path d="M99.70,200.60 L101.20,197.90 L102.70,200.60 Z" fill="#c01a44" stroke="#c01a44" stroke-width="0.4"/>
<path d="M139.50,200.60 L141.00,197.90 L142.50,200.60 Z" fill="#c01a44" stroke="#c01a44" stroke-width="0.4"/>
<path d="M151.70,200.60 L153.20,197.90 L154.70,200.60 Z" fill="#c01a44" stroke="#c01a44" stroke-width="0.4"/>
<path d="M155.10,200.60 L156.60,197.90 L158.10,200.60 Z" fill="#c01a44" stroke="#c01a44" stroke-width="0.4"/>
<path d="M158.50,200.60 L160.00,197.90 L161.50,200.60 Z" fill="#c01a44" stroke="#c01a44" stroke-width="0.4"/>
<path d="M162.90,200.60 L164.40,197.90 L165.90,200.60 Z" fill="#c01a44" stroke="#c01a44" stroke-width="0.4"/>
<path d="M174.20,200.60 L175.70,197.90 L177.20,200.60 Z" fill="#c01a44" stroke="#c01a44" stroke-width="0.4"/>
<path d="M174.50,200.60 L176.00,197.90 L177.50,200.60 Z" fill="#c01a44" stroke="#c01a44" stroke-width="0.4"/>
<path d="M209.20,200.60 L210.70,197.90 L212.20,200.60 Z" fill="#c01a44" stroke="#c01a44" stroke-width="0.4"/>
<path d="M218.70,200.60 L220.20,197.90 L221.70,200.60 Z" fill="#c01a44" stroke="#c01a44" stroke-width="0.4"/>
<path d="M221.30,200.60 L222.80,197.90 L224.30,200.60 Z" fill="#c01a44" stroke="#c01a44" stroke-width="0.4"/>
<path d="M223.90,200.60 L225.40,197.90 L226.90,200.60 Z" fill="#c01a44" stroke="#c01a44" stroke-width="0.4"/>
<circle cx="46.30" cy="184.00" r="1.5" fill="#c01a44"/>
<text x="176.00" y="171.64" font-size="5.8" textLength="36.00" lengthAdjust="spacingAndGlyphs">Censoring times</text>
<rect x="214.60" y="168.60" width="2.60" height="2.60" fill="none" stroke="#c01a44" stroke-width="1.0"/>
<path d="M220.10,171.00 L221.60,168.30 L223.10,171.00 Z" fill="#c01a44" stroke="#c01a44" stroke-width="0.4"/>
<text x="176.00" y="179.44" font-size="5.8" textLength="18.50" lengthAdjust="spacingAndGlyphs">&lt;Median</text>
<line x1="202.00" y1="177.70" x2="213.30" y2="177.70" stroke="#c01a44" stroke-width="1.2"/>
<rect x="206.50" y="176.40" width="2.60" height="2.60" fill="none" stroke="#c01a44" stroke-width="1.0"/>
<text x="176.00" y="187.24" font-size="5.8" textLength="18.50" lengthAdjust="spacingAndGlyphs">≥Median</text>
<line x1="202.00" y1="185.50" x2="213.30" y2="185.50" stroke="#c01a44" stroke-width="1.2" stroke-dasharray="2.6,2.2"/>
<path d="M206.30,186.60 L207.80,183.90 L209.30,186.60 Z" fill="#c01a44" stroke="#c01a44" stroke-width="0.4"/>
<text x="164.90" y="222.05" font-size="4.4" font-weight="bold" textLength="27.50" lengthAdjust="spacingAndGlyphs" stroke="#1a1a1a" stroke-width="0.15">Median DOR,</text>
<text x="161.70" y="227.35" font-size="4.4" font-weight="bold" textLength="32.80" lengthAdjust="spacingAndGlyphs" stroke="#1a1a1a" stroke-width="0.15">months (95% CI)</text>
<text x="139.50" y="228.05" font-size="4.4" font-weight="bold" textLength="18.00" lengthAdjust="spacingAndGlyphs" stroke="#1a1a1a" stroke-width="0.15">Events, n</text>
<text x="201.90" y="227.35" font-size="4.4" font-weight="bold" textLength="24.40" lengthAdjust="spacingAndGlyphs" stroke="#1a1a1a" stroke-width="0.15">HR (95% CI)</text>
<line x1="49.50" y1="230.50" x2="232.60" y2="230.50" stroke="#8a8a8a" stroke-width="0.8"/>
<text x="50.60" y="236.25" font-size="4.4" font-weight="bold" textLength="82.40" lengthAdjust="spacingAndGlyphs" stroke="#1a1a1a" stroke-width="0.15">&lt;Median Concentration at Month 3 (n=21)*</text>
<text x="50.60" y="243.05" font-size="4.4" font-weight="bold" textLength="82.40" lengthAdjust="spacingAndGlyphs" stroke="#1a1a1a" stroke-width="0.15">≥Median Concentration at Month 3 (n=22)*</text>
<text x="147.40" y="236.38" font-size="4.4" textLength="2.40" lengthAdjust="spacingAndGlyphs">6</text>
<text x="147.40" y="241.88" font-size="4.4" textLength="2.40" lengthAdjust="spacingAndGlyphs">5</text>
<text x="164.90" y="235.65" font-size="4.4" textLength="26.40" lengthAdjust="spacingAndGlyphs">NE (10.0–NE)</text>
<text x="166.40" y="240.65" font-size="4.4" textLength="22.80" lengthAdjust="spacingAndGlyphs">NE (NE–NE)</text>
<text x="198.80" y="235.65" font-size="4.4" textLength="30.60" lengthAdjust="spacingAndGlyphs">0.99 (0.67–1.47)</text>
<text x="7.00" y="282.12" font-size="5.4" textLength="65.50" lengthAdjust="spacingAndGlyphs">Number of patients still at risk</text>
<text x="7.00" y="291.62" font-size="5.4" textLength="19.30" lengthAdjust="spacingAndGlyphs">&lt;Median</text>
<text x="7.00" y="302.02" font-size="5.4" textLength="19.30" lengthAdjust="spacingAndGlyphs">≥Median</text>
<text x="46.30" y="291.94" font-size="5.4" text-anchor="middle">21</text>
<text x="46.30" y="302.14" font-size="5.4" text-anchor="middle">23</text>
<text x="66.94" y="291.94" font-size="5.4" text-anchor="middle">17</text>
<text x="66.94" y="302.14" font-size="5.4" text-anchor="middle">20</text>
<text x="87.58" y="291.94" font-size="5.4" text-anchor="middle">16</text>
<text x="87.58" y="302.14" font-size="5.4" text-anchor="middle">16</text>
<text x="108.22" y="291.94" font-size="5.4" text-anchor="middle">13</text>
<text x="108.22" y="302.14" font-size="5.4" text-anchor="middle">15</text>
<text x="128.86" y="291.94" font-size="5.4" text-anchor="middle">13</text>
<text x="128.86" y="302.14" font-size="5.4" text-anchor="middle">15</text>
<text x="149.50" y="291.94" font-size="5.4" text-anchor="middle">8</text>
<text x="149.50" y="302.14" font-size="5.4" text-anchor="middle">12</text>
<text x="170.14" y="291.94" font-size="5.4" text-anchor="middle">4</text>
<text x="170.14" y="302.14" font-size="5.4" text-anchor="middle">6</text>
<text x="190.78" y="291.94" font-size="5.4" text-anchor="middle">4</text>
<text x="190.78" y="302.14" font-size="5.4" text-anchor="middle">5</text>
<text x="211.42" y="291.94" font-size="5.4" text-anchor="middle">3</text>
<text x="211.42" y="302.14" font-size="5.4" text-anchor="middle">5</text>
<text x="232.06" y="291.94" font-size="5.4" text-anchor="middle">0</text>
<text x="232.06" y="302.14" font-size="5.4" text-anchor="middle">0</text>
<text x="264.60" y="172.20" font-size="11" font-weight="bold" stroke="#1a1a1a" stroke-width="0.35">D</text>
<line x1="303.80" y1="182.20" x2="303.80" y2="248.30" stroke="#1a1a1a" stroke-width="1.3"/>
<line x1="300.60" y1="247.70" x2="303.80" y2="247.70" stroke="#1a1a1a" stroke-width="1"/>
<text x="298.30" y="249.97" font-size="6.3" text-anchor="end">0</text>
<line x1="300.60" y1="234.90" x2="303.80" y2="234.90" stroke="#1a1a1a" stroke-width="1"/>
<text x="298.30" y="237.17" font-size="6.3" text-anchor="end">25,000</text>
<line x1="300.60" y1="222.10" x2="303.80" y2="222.10" stroke="#1a1a1a" stroke-width="1"/>
<text x="298.30" y="224.37" font-size="6.3" text-anchor="end">50,000</text>
<line x1="300.60" y1="209.30" x2="303.80" y2="209.30" stroke="#1a1a1a" stroke-width="1"/>
<text x="298.30" y="211.57" font-size="6.3" text-anchor="end">75,000</text>
<line x1="300.60" y1="196.50" x2="303.80" y2="196.50" stroke="#1a1a1a" stroke-width="1"/>
<text x="298.30" y="198.77" font-size="6.3" text-anchor="end">100,000</text>
<line x1="300.60" y1="183.70" x2="303.80" y2="183.70" stroke="#1a1a1a" stroke-width="1"/>
<text x="298.30" y="185.97" font-size="6.3" text-anchor="end">125,000</text>
<line x1="303.20" y1="247.90" x2="495.50" y2="247.90" stroke="#1a1a1a" stroke-width="1.4"/>
<text transform="translate(270.2,234.5) rotate(-90)" x="0" y="0" font-size="8.4" stroke="#1a1a1a" stroke-width="0.45" textLength="4.3" lengthAdjust="spacingAndGlyphs">C</text>
<text transform="translate(272.0,229.0) rotate(-90)" x="0" y="0" font-size="3.6" textLength="6.2" lengthAdjust="spacingAndGlyphs">max</text>
<text transform="translate(270.2,223.2) rotate(-90)" x="0" y="0" font-size="8.2" stroke="#1a1a1a" stroke-width="0.2" textLength="26.2" lengthAdjust="spacingAndGlyphs">, copies/µg</text>
<line x1="348.30" y1="247.90" x2="348.30" y2="250.40" stroke="#1a1a1a" stroke-width="1"/>
<line x1="399.90" y1="247.90" x2="399.90" y2="250.40" stroke="#1a1a1a" stroke-width="1"/>
<line x1="451.10" y1="247.90" x2="451.10" y2="250.40" stroke="#1a1a1a" stroke-width="1"/>
<line x1="348.30" y1="240.12" x2="348.30" y2="243.60" stroke="#222" stroke-width="1.1"/>
<line x1="345.10" y1="240.12" x2="351.50" y2="240.12" stroke="#222" stroke-width="1.1"/>
<line x1="348.30" y1="246.93" x2="348.30" y2="249.20" stroke="#222" stroke-width="1.1"/>
<line x1="345.10" y1="247.70" x2="351.50" y2="247.70" stroke="#222" stroke-width="1.1"/>
<rect x="341.35" y="243.60" width="13.90" height="3.33" fill="#dc978a" stroke="#cd7f72" stroke-width="0.6"/>
<line x1="341.35" y1="246.42" x2="355.25" y2="246.42" stroke="#222" stroke-width="1.0"/>
<path d="M348.30,242.67 L349.85,244.22 L348.30,245.77 L346.75,244.22 Z" fill="none" stroke="#c01a44" stroke-width="1.3"/>
<circle cx="348.30" cy="217.08" r="1.35" fill="none" stroke="#c01a44" stroke-width="1.0"/>
<circle cx="348.30" cy="228.04" r="1.35" fill="none" stroke="#c01a44" stroke-width="1.0"/>
<circle cx="348.30" cy="236.03" r="1.35" fill="none" stroke="#c01a44" stroke-width="1.0"/>
<circle cx="348.30" cy="237.20" r="1.35" fill="none" stroke="#c01a44" stroke-width="1.0"/>
<line x1="399.90" y1="232.08" x2="399.90" y2="240.02" stroke="#222" stroke-width="1.1"/>
<line x1="396.70" y1="232.08" x2="403.10" y2="232.08" stroke="#222" stroke-width="1.1"/>
<line x1="399.90" y1="245.14" x2="399.90" y2="248.94" stroke="#222" stroke-width="1.1"/>
<line x1="396.70" y1="247.44" x2="403.10" y2="247.44" stroke="#222" stroke-width="1.1"/>
<rect x="392.95" y="240.02" width="13.90" height="5.12" fill="#dc978a" stroke="#cd7f72" stroke-width="0.6"/>
<line x1="392.95" y1="244.73" x2="406.85" y2="244.73" stroke="#222" stroke-width="1.0"/>
<path d="M399.90,240.01 L401.45,241.56 L399.90,243.11 L398.35,241.56 Z" fill="none" stroke="#c01a44" stroke-width="1.3"/>
<circle cx="399.90" cy="204.69" r="1.35" fill="none" stroke="#c01a44" stroke-width="1.0"/>
<circle cx="399.90" cy="227.73" r="1.35" fill="none" stroke="#c01a44" stroke-width="1.0"/>
<circle cx="399.90" cy="228.50" r="1.35" fill="none" stroke="#c01a44" stroke-width="1.0"/>
<line x1="451.10" y1="207.25" x2="451.10" y2="223.89" stroke="#222" stroke-width="1.1"/>
<line x1="447.90" y1="207.25" x2="454.30" y2="207.25" stroke="#222" stroke-width="1.1"/>
<line x1="451.10" y1="244.37" x2="451.10" y2="248.69" stroke="#222" stroke-width="1.1"/>
<line x1="447.90" y1="247.19" x2="454.30" y2="247.19" stroke="#222" stroke-width="1.1"/>
<rect x="444.15" y="223.89" width="13.90" height="20.48" fill="#dc978a" stroke="#cd7f72" stroke-width="0.6"/>
<line x1="444.15" y1="237.72" x2="458.05" y2="237.72" stroke="#222" stroke-width="1.0"/>
<path d="M451.10,231.05 L452.65,232.60 L451.10,234.15 L449.55,232.60 Z" fill="none" stroke="#c01a44" stroke-width="1.3"/>
<circle cx="451.10" cy="191.64" r="1.35" fill="none" stroke="#c01a44" stroke-width="1.0"/>
<text x="336.85" y="259.39" font-size="5.8" textLength="22.90" lengthAdjust="spacingAndGlyphs">No CRS</text>
<text x="338.25" y="266.00" font-size="5.0" textLength="20.30" lengthAdjust="spacingAndGlyphs" font-style="italic">(n=42)*</text>
<text x="385.70" y="259.39" font-size="5.8" textLength="28.20" lengthAdjust="spacingAndGlyphs">Grade 1/2</text>
<text x="389.65" y="266.00" font-size="5.0" textLength="20.30" lengthAdjust="spacingAndGlyphs" font-style="italic">(n=37)*</text>
<text x="437.20" y="259.39" font-size="5.8" textLength="28.20" lengthAdjust="spacingAndGlyphs">Grade 3/4</text>
<text x="441.20" y="266.00" font-size="5.0" textLength="20.20" lengthAdjust="spacingAndGlyphs" font-style="italic">(n=22)*</text>
<text x="373.40" y="278.60" font-size="8.0" font-weight="bold" textLength="53.20" lengthAdjust="spacingAndGlyphs">Maximum CRS grade</text>
<path d="M306,285.3 L307.8,287.1 L306,288.90000000000003 L304.2,287.1 Z" fill="none" stroke="#c01a44" stroke-width="1"/>
<circle cx="306.00" cy="297.10" r="1.4" fill="none" stroke="#c01a44" stroke-width="0.9"/>
<line x1="304.20" y1="305.20" x2="307.00" y2="305.20" stroke="#222" stroke-width="0.8"/>
<line x1="304.20" y1="308.00" x2="307.00" y2="308.00" stroke="#222" stroke-width="0.8"/>
<rect x="304.6" y="305.6" width="2" height="2" fill="#555"/>
<text x="311.20" y="288.75" font-size="5.0" textLength="12.30" lengthAdjust="spacingAndGlyphs">Mean</text>
<text x="311.20" y="298.75" font-size="5.0" textLength="59.20" lengthAdjust="spacingAndGlyphs">Values outside 1.5 × IQR</text>
<text x="311.20" y="308.45" font-size="5.0" textLength="84.80" lengthAdjust="spacingAndGlyphs">1.5 × IQR from quartile 1 to quartile 3</text>
<text x="6.90" y="334.60" font-size="11" font-weight="bold" stroke="#1a1a1a" stroke-width="0.35">E</text>
<line x1="46.20" y1="345.80" x2="46.20" y2="412.10" stroke="#1a1a1a" stroke-width="1.3"/>
<line x1="43.00" y1="411.50" x2="46.20" y2="411.50" stroke="#1a1a1a" stroke-width="1"/>
<text x="41.60" y="413.77" font-size="6.3" text-anchor="end">0</text>
<line x1="43.00" y1="405.08" x2="46.20" y2="405.08" stroke="#1a1a1a" stroke-width="1"/>
<text x="41.60" y="407.35" font-size="6.3" text-anchor="end">10</text>
<line x1="43.00" y1="398.66" x2="46.20" y2="398.66" stroke="#1a1a1a" stroke-width="1"/>
<text x="41.60" y="400.93" font-size="6.3" text-anchor="end">20</text>
<line x1="43.00" y1="392.24" x2="46.20" y2="392.24" stroke="#1a1a1a" stroke-width="1"/>
<text x="41.60" y="394.51" font-size="6.3" text-anchor="end">30</text>
<line x1="43.00" y1="385.82" x2="46.20" y2="385.82" stroke="#1a1a1a" stroke-width="1"/>
<text x="41.60" y="388.09" font-size="6.3" text-anchor="end">40</text>
<line x1="43.00" y1="379.40" x2="46.20" y2="379.40" stroke="#1a1a1a" stroke-width="1"/>
<text x="41.60" y="381.67" font-size="6.3" text-anchor="end">50</text>
<line x1="43.00" y1="372.98" x2="46.20" y2="372.98" stroke="#1a1a1a" stroke-width="1"/>
<text x="41.60" y="375.25" font-size="6.3" text-anchor="end">60</text>
<line x1="43.00" y1="366.56" x2="46.20" y2="366.56" stroke="#1a1a1a" stroke-width="1"/>
<text x="41.60" y="368.83" font-size="6.3" text-anchor="end">70</text>
<line x1="43.00" y1="360.14" x2="46.20" y2="360.14" stroke="#1a1a1a" stroke-width="1"/>
<text x="41.60" y="362.41" font-size="6.3" text-anchor="end">80</text>
<line x1="43.00" y1="353.72" x2="46.20" y2="353.72" stroke="#1a1a1a" stroke-width="1"/>
<text x="41.60" y="355.99" font-size="6.3" text-anchor="end">90</text>
<line x1="43.00" y1="347.30" x2="46.20" y2="347.30" stroke="#1a1a1a" stroke-width="1"/>
<text x="41.60" y="349.57" font-size="6.3" text-anchor="end">100</text>
<line x1="45.60" y1="411.70" x2="242.00" y2="411.70" stroke="#1a1a1a" stroke-width="1.4"/>
<line x1="46.20" y1="411.70" x2="46.20" y2="414.20" stroke="#1a1a1a" stroke-width="1"/>
<text x="46.20" y="423.27" font-size="6.3" text-anchor="middle">0</text>
<line x1="84.70" y1="411.70" x2="84.70" y2="414.20" stroke="#1a1a1a" stroke-width="1"/>
<text x="84.70" y="423.27" font-size="6.3" text-anchor="middle">10,000</text>
<line x1="123.20" y1="411.70" x2="123.20" y2="414.20" stroke="#1a1a1a" stroke-width="1"/>
<text x="123.20" y="423.27" font-size="6.3" text-anchor="middle">25,000</text>
<line x1="161.70" y1="411.70" x2="161.70" y2="414.20" stroke="#1a1a1a" stroke-width="1"/>
<text x="161.70" y="423.27" font-size="6.3" text-anchor="middle">50,000</text>
<line x1="200.20" y1="411.70" x2="200.20" y2="414.20" stroke="#1a1a1a" stroke-width="1"/>
<text x="200.20" y="423.27" font-size="6.3" text-anchor="middle">100,000</text>
<line x1="238.70" y1="411.70" x2="238.70" y2="414.20" stroke="#1a1a1a" stroke-width="1"/>
<text x="238.70" y="423.27" font-size="6.3" text-anchor="middle">150,000</text>
<text transform="translate(14.00,377.60) rotate(-90)" x="-30.30" y="0" font-size="8.6" textLength="60.60" lengthAdjust="spacingAndGlyphs" stroke="#1a1a1a" stroke-width="0.3">Probability of any-grade</text>
<text transform="translate(22.90,378.10) rotate(-90)" x="-9.60" y="0" font-size="8.6" textLength="19.20" lengthAdjust="spacingAndGlyphs" stroke="#1a1a1a" stroke-width="0.3">CRS, %</text>
<text x="126.10" y="433.80" font-size="8.4" textLength="3.60" lengthAdjust="spacingAndGlyphs" stroke="#1a1a1a" stroke-width="0.45">C</text>
<text x="130.10" y="436.30" font-size="3.6" textLength="5.60" lengthAdjust="spacingAndGlyphs">max</text>
<text x="135.90" y="433.80" font-size="8.2" textLength="27.70" lengthAdjust="spacingAndGlyphs" stroke="#1a1a1a" stroke-width="0.3">, copies/µg</text>
<text x="48.00" y="341.51" font-size="5.3" textLength="11.60" lengthAdjust="spacingAndGlyphs">n/N**</text>
<text x="48.10" y="348.11" font-size="5.3" textLength="10.20" lengthAdjust="spacingAndGlyphs">9/26</text>
<text x="61.50" y="348.11" font-size="5.3" textLength="13.50" lengthAdjust="spacingAndGlyphs">16/25</text>
<text x="79.80" y="348.11" font-size="5.3" textLength="13.50" lengthAdjust="spacingAndGlyphs">14/25</text>
<text x="126.30" y="348.11" font-size="5.3" textLength="13.70" lengthAdjust="spacingAndGlyphs">20/25</text>
<path d="M46.30,395.50 C46.50,394.75 46.88,392.62 47.50,391.00 C48.12,389.38 48.92,387.38 50.00,385.80 C51.08,384.22 52.67,382.75 54.00,381.50 C55.33,380.25 56.33,379.42 58.00,378.30 C59.67,377.18 61.67,375.90 64.00,374.80 C66.33,373.70 68.93,372.62 72.00,371.70 C75.07,370.78 78.73,370.08 82.40,369.30 C86.07,368.52 89.40,367.80 94.00,367.00 C98.60,366.20 103.58,365.53 110.00,364.50 C116.42,363.47 124.17,361.83 132.50,360.80 C140.83,359.77 148.75,359.10 160.00,358.30 C171.25,357.50 186.88,356.67 200.00,356.00 C213.12,355.33 232.25,354.58 238.70,354.30" stroke="#c01a44" stroke-width="1.3" fill="none"/>
<path d="M46.30,382.50 C46.50,382.17 46.88,381.17 47.50,380.50 C48.12,379.83 48.92,379.38 50.00,378.50 C51.08,377.62 52.67,376.23 54.00,375.20 C55.33,374.17 56.33,373.28 58.00,372.30 C59.67,371.32 61.67,370.30 64.00,369.30 C66.33,368.30 68.93,367.27 72.00,366.30 C75.07,365.33 78.73,364.48 82.40,363.50 C86.07,362.52 89.40,361.32 94.00,360.40 C98.60,359.48 103.58,358.98 110.00,358.00 C116.42,357.02 124.17,355.42 132.50,354.50 C140.83,353.58 148.75,353.08 160.00,352.50 C171.25,351.92 186.88,351.50 200.00,351.00 C213.12,350.50 232.25,349.75 238.70,349.50" stroke="#c01a44" stroke-width="1.3" fill="none" stroke-dasharray="3.05,2.05"/>
<path d="M46.30,411.00 C46.50,409.58 46.88,405.40 47.50,402.50 C48.12,399.60 48.92,396.10 50.00,393.60 C51.08,391.10 52.67,389.18 54.00,387.50 C55.33,385.82 56.33,384.70 58.00,383.50 C59.67,382.30 61.67,381.25 64.00,380.30 C66.33,379.35 68.93,378.58 72.00,377.80 C75.07,377.02 78.73,376.23 82.40,375.60 C86.07,374.97 89.40,374.52 94.00,374.00 C98.60,373.48 103.58,373.08 110.00,372.50 C116.42,371.92 124.17,371.17 132.50,370.50 C140.83,369.83 148.75,369.12 160.00,368.50 C171.25,367.88 186.88,367.38 200.00,366.80 C213.12,366.22 232.25,365.30 238.70,365.00" stroke="#c01a44" stroke-width="1.3" fill="none" stroke-dasharray="3.05,2.05"/>
<line x1="50.00" y1="375.60" x2="50.00" y2="400.60" stroke="#2a2a2a" stroke-width="1.1"/>
<line x1="49.30" y1="375.60" x2="50.70" y2="375.60" stroke="#2a2a2a" stroke-width="0.9"/>
<line x1="49.30" y1="400.60" x2="50.70" y2="400.60" stroke="#2a2a2a" stroke-width="0.9"/>
<circle cx="50.00" cy="389.29" r="0.9" fill="#c01a44"/>
<line x1="64.00" y1="358.70" x2="64.00" y2="384.60" stroke="#2a2a2a" stroke-width="1.1"/>
<line x1="63.30" y1="358.70" x2="64.70" y2="358.70" stroke="#2a2a2a" stroke-width="0.9"/>
<line x1="63.30" y1="384.60" x2="64.70" y2="384.60" stroke="#2a2a2a" stroke-width="0.9"/>
<circle cx="64.00" cy="370.41" r="0.9" fill="#c01a44"/>
<line x1="82.30" y1="363.50" x2="82.30" y2="389.40" stroke="#2a2a2a" stroke-width="1.1"/>
<line x1="81.60" y1="363.50" x2="83.00" y2="363.50" stroke="#2a2a2a" stroke-width="0.9"/>
<line x1="81.60" y1="389.40" x2="83.00" y2="389.40" stroke="#2a2a2a" stroke-width="0.9"/>
<circle cx="82.30" cy="375.55" r="0.9" fill="#c01a44"/>
<line x1="132.60" y1="351.40" x2="132.60" y2="373.40" stroke="#2a2a2a" stroke-width="1.1"/>
<line x1="131.90" y1="351.40" x2="133.30" y2="351.40" stroke="#2a2a2a" stroke-width="0.9"/>
<line x1="131.90" y1="373.40" x2="133.30" y2="373.40" stroke="#2a2a2a" stroke-width="0.9"/>
<circle cx="132.60" cy="360.14" r="0.9" fill="#c01a44"/>
<line x1="145.20" y1="382.70" x2="157.10" y2="382.70" stroke="#c01a44" stroke-width="1.2"/>
<text x="160.30" y="384.84" font-size="5.8" textLength="41.60" lengthAdjust="spacingAndGlyphs">Logistic regression</text>
<line x1="145.20" y1="392.20" x2="157.10" y2="392.20" stroke="#c01a44" stroke-width="1.2" stroke-dasharray="2.6,1.8"/>
<text x="160.30" y="394.34" font-size="5.8" textLength="34.90" lengthAdjust="spacingAndGlyphs">95% CI bounds</text>
<circle cx="151.20" cy="402.40" r="0.8" fill="#c01a44"/>
<text x="160.30" y="404.54" font-size="5.8" textLength="68.10" lengthAdjust="spacingAndGlyphs">Observed proportion (95% CI)</text>
<text x="264.60" y="334.70" font-size="11" font-weight="bold" stroke="#1a1a1a" stroke-width="0.35">F</text>
<line x1="304.20" y1="346.00" x2="304.20" y2="412.30" stroke="#1a1a1a" stroke-width="1.3"/>
<line x1="301.00" y1="411.70" x2="304.20" y2="411.70" stroke="#1a1a1a" stroke-width="1"/>
<text x="299.40" y="413.97" font-size="6.3" text-anchor="end">0</text>
<line x1="301.00" y1="405.28" x2="304.20" y2="405.28" stroke="#1a1a1a" stroke-width="1"/>
<text x="299.40" y="407.55" font-size="6.3" text-anchor="end">10</text>
<line x1="301.00" y1="398.86" x2="304.20" y2="398.86" stroke="#1a1a1a" stroke-width="1"/>
<text x="299.40" y="401.13" font-size="6.3" text-anchor="end">20</text>
<line x1="301.00" y1="392.44" x2="304.20" y2="392.44" stroke="#1a1a1a" stroke-width="1"/>
<text x="299.40" y="394.71" font-size="6.3" text-anchor="end">30</text>
<line x1="301.00" y1="386.02" x2="304.20" y2="386.02" stroke="#1a1a1a" stroke-width="1"/>
<text x="299.40" y="388.29" font-size="6.3" text-anchor="end">40</text>
<line x1="301.00" y1="379.60" x2="304.20" y2="379.60" stroke="#1a1a1a" stroke-width="1"/>
<text x="299.40" y="381.87" font-size="6.3" text-anchor="end">50</text>
<line x1="301.00" y1="373.18" x2="304.20" y2="373.18" stroke="#1a1a1a" stroke-width="1"/>
<text x="299.40" y="375.45" font-size="6.3" text-anchor="end">60</text>
<line x1="301.00" y1="366.76" x2="304.20" y2="366.76" stroke="#1a1a1a" stroke-width="1"/>
<text x="299.40" y="369.03" font-size="6.3" text-anchor="end">70</text>
<line x1="301.00" y1="360.34" x2="304.20" y2="360.34" stroke="#1a1a1a" stroke-width="1"/>
<text x="299.40" y="362.61" font-size="6.3" text-anchor="end">80</text>
<line x1="301.00" y1="353.92" x2="304.20" y2="353.92" stroke="#1a1a1a" stroke-width="1"/>
<text x="299.40" y="356.19" font-size="6.3" text-anchor="end">90</text>
<line x1="301.00" y1="347.50" x2="304.20" y2="347.50" stroke="#1a1a1a" stroke-width="1"/>
<text x="299.40" y="349.77" font-size="6.3" text-anchor="end">100</text>
<line x1="303.60" y1="412.00" x2="501.50" y2="412.00" stroke="#1a1a1a" stroke-width="1.4"/>
<line x1="304.20" y1="412.00" x2="304.20" y2="414.50" stroke="#1a1a1a" stroke-width="1"/>
<text x="304.20" y="423.87" font-size="6.3" text-anchor="middle">0</text>
<line x1="328.65" y1="412.00" x2="328.65" y2="414.50" stroke="#1a1a1a" stroke-width="1"/>
<text x="328.65" y="423.87" font-size="6.3" text-anchor="middle">500</text>
<line x1="353.10" y1="412.00" x2="353.10" y2="414.50" stroke="#1a1a1a" stroke-width="1"/>
<text x="353.10" y="423.87" font-size="6.3" text-anchor="middle">1000</text>
<line x1="377.55" y1="412.00" x2="377.55" y2="414.50" stroke="#1a1a1a" stroke-width="1"/>
<text x="377.55" y="423.87" font-size="6.3" text-anchor="middle">5000</text>
<line x1="402.00" y1="412.00" x2="402.00" y2="414.50" stroke="#1a1a1a" stroke-width="1"/>
<text x="402.00" y="423.87" font-size="6.3" text-anchor="middle">10,000</text>
<line x1="426.45" y1="412.00" x2="426.45" y2="414.50" stroke="#1a1a1a" stroke-width="1"/>
<text x="426.45" y="423.87" font-size="6.3" text-anchor="middle">25,000</text>
<line x1="450.90" y1="412.00" x2="450.90" y2="414.50" stroke="#1a1a1a" stroke-width="1"/>
<text x="450.90" y="423.87" font-size="6.3" text-anchor="middle">50,000</text>
<line x1="475.35" y1="412.00" x2="475.35" y2="414.50" stroke="#1a1a1a" stroke-width="1"/>
<text x="475.35" y="423.87" font-size="6.3" text-anchor="middle">100,000</text>
<line x1="499.80" y1="412.00" x2="499.80" y2="414.50" stroke="#1a1a1a" stroke-width="1"/>
<text x="499.80" y="423.87" font-size="6.3" text-anchor="middle">150,000</text>
<text transform="translate(271.30,377.70) rotate(-90)" x="-30.50" y="0" font-size="8.6" textLength="61.00" lengthAdjust="spacingAndGlyphs" stroke="#1a1a1a" stroke-width="0.3">Probability of any-grade</text>
<text transform="translate(281.30,378.00) rotate(-90)" x="-27.30" y="0" font-size="8.6" textLength="54.60" lengthAdjust="spacingAndGlyphs" stroke="#1a1a1a" stroke-width="0.3">neurologic events, %</text>
<text x="384.40" y="433.80" font-size="8.4" textLength="3.60" lengthAdjust="spacingAndGlyphs" stroke="#1a1a1a" stroke-width="0.45">C</text>
<text x="388.40" y="436.30" font-size="3.6" textLength="5.60" lengthAdjust="spacingAndGlyphs">max</text>
<text x="394.20" y="433.80" font-size="8.2" textLength="27.70" lengthAdjust="spacingAndGlyphs" stroke="#1a1a1a" stroke-width="0.3">, copies/µg</text>
<text x="334.20" y="377.01" font-size="5.3" textLength="24.60" lengthAdjust="spacingAndGlyphs">n/N*† 7/26</text>
<text x="369.20" y="377.01" font-size="5.3" textLength="11.10" lengthAdjust="spacingAndGlyphs">3/25</text>
<text x="392.80" y="377.01" font-size="5.3" textLength="11.10" lengthAdjust="spacingAndGlyphs">5/25</text>
<text x="427.20" y="377.01" font-size="5.3" textLength="10.40" lengthAdjust="spacingAndGlyphs">6/25</text>
<path d="M304.30,397.00 C312.35,397.03 331.27,397.08 352.60,397.20 C373.93,397.32 407.83,397.52 432.30,397.70 C456.77,397.88 488.22,398.20 499.40,398.30" stroke="#c01a44" stroke-width="1.3" fill="none"/>
<path d="M304.30,366.50 C304.58,367.50 305.38,370.83 306.00,372.50 C306.62,374.17 307.08,375.17 308.00,376.50 C308.92,377.83 309.83,379.32 311.50,380.50 C313.17,381.68 315.58,382.72 318.00,383.60 C320.42,384.48 322.83,385.13 326.00,385.80 C329.17,386.47 332.57,386.97 337.00,387.60 C341.43,388.23 347.93,389.00 352.60,389.60 C357.27,390.20 361.27,390.85 365.00,391.20 C368.73,391.55 371.67,391.63 375.00,391.70 C378.33,391.77 381.03,391.73 385.00,391.60 C388.97,391.47 394.63,391.12 398.80,390.90 C402.97,390.68 404.42,390.70 410.00,390.30 C415.58,389.90 423.97,389.18 432.30,388.50 C440.63,387.82 448.82,387.17 460.00,386.20 C471.18,385.23 492.83,383.28 499.40,382.70" stroke="#c01a44" stroke-width="1.3" fill="none" stroke-dasharray="3.05,2.05"/>
<path d="M304.30,409.50 C304.58,409.22 305.38,408.25 306.00,407.80 C306.62,407.35 307.08,407.10 308.00,406.80 C308.92,406.50 309.50,406.28 311.50,406.00 C313.50,405.72 315.75,405.42 320.00,405.10 C324.25,404.78 331.57,404.45 337.00,404.10 C342.43,403.75 347.93,403.28 352.60,403.00 C357.27,402.72 361.27,402.53 365.00,402.40 C368.73,402.27 371.67,402.22 375.00,402.20 C378.33,402.18 381.03,402.25 385.00,402.30 C388.97,402.35 392.97,402.32 398.80,402.50 C404.63,402.68 414.42,403.12 420.00,403.40 C425.58,403.68 425.63,403.85 432.30,404.20 C438.97,404.55 448.82,405.05 460.00,405.50 C471.18,405.95 492.83,406.67 499.40,406.90" stroke="#c01a44" stroke-width="1.3" fill="none" stroke-dasharray="3.05,2.05"/>
<line x1="352.60" y1="380.40" x2="352.60" y2="404.20" stroke="#2a2a2a" stroke-width="1.1"/>
<line x1="351.90" y1="380.40" x2="353.30" y2="380.40" stroke="#2a2a2a" stroke-width="0.9"/>
<line x1="351.90" y1="404.20" x2="353.30" y2="404.20" stroke="#2a2a2a" stroke-width="0.9"/>
<circle cx="352.60" cy="394.43" r="0.9" fill="#c01a44"/>
<line x1="375.00" y1="391.20" x2="375.00" y2="409.70" stroke="#2a2a2a" stroke-width="1.1"/>
<line x1="374.30" y1="391.20" x2="375.70" y2="391.20" stroke="#2a2a2a" stroke-width="0.9"/>
<line x1="374.30" y1="409.70" x2="375.70" y2="409.70" stroke="#2a2a2a" stroke-width="0.9"/>
<circle cx="375.00" cy="404.00" r="0.9" fill="#c01a44"/>
<line x1="398.80" y1="385.00" x2="398.80" y2="407.40" stroke="#2a2a2a" stroke-width="1.1"/>
<line x1="398.10" y1="385.00" x2="399.50" y2="385.00" stroke="#2a2a2a" stroke-width="0.9"/>
<line x1="398.10" y1="407.40" x2="399.50" y2="407.40" stroke="#2a2a2a" stroke-width="0.9"/>
<circle cx="398.80" cy="398.86" r="0.9" fill="#c01a44"/>
<line x1="432.30" y1="382.20" x2="432.30" y2="405.30" stroke="#2a2a2a" stroke-width="1.1"/>
<line x1="431.60" y1="382.20" x2="433.00" y2="382.20" stroke="#2a2a2a" stroke-width="0.9"/>
<line x1="431.60" y1="405.30" x2="433.00" y2="405.30" stroke="#2a2a2a" stroke-width="0.9"/>
<circle cx="432.30" cy="396.29" r="0.9" fill="#c01a44"/>
<line x1="405.70" y1="342.40" x2="417.20" y2="342.40" stroke="#c01a44" stroke-width="1.2"/>
<text x="420.50" y="344.54" font-size="5.8" textLength="41.30" lengthAdjust="spacingAndGlyphs">Logistic regression</text>
<line x1="405.70" y1="352.30" x2="417.20" y2="352.30" stroke="#c01a44" stroke-width="1.2" stroke-dasharray="2.6,1.8"/>
<text x="420.50" y="354.44" font-size="5.8" textLength="34.50" lengthAdjust="spacingAndGlyphs">95% CI bounds</text>
<circle cx="411.20" cy="362.20" r="0.8" fill="#c01a44"/>
<text x="420.50" y="364.34" font-size="5.8" textLength="67.90" lengthAdjust="spacingAndGlyphs">Observed proportion (95% CI)</text>
<rect x="0" y="0" width="520" height="1.15" fill="#000"/>
<rect x="0" y="0" width="1.2" height="446" fill="#000"/>
<rect x="518.6" y="0" width="1.4" height="446" fill="#000"/>
<rect x="0" y="444.6" width="520" height="1.4" fill="#000"/>
</svg>
</body></html>
